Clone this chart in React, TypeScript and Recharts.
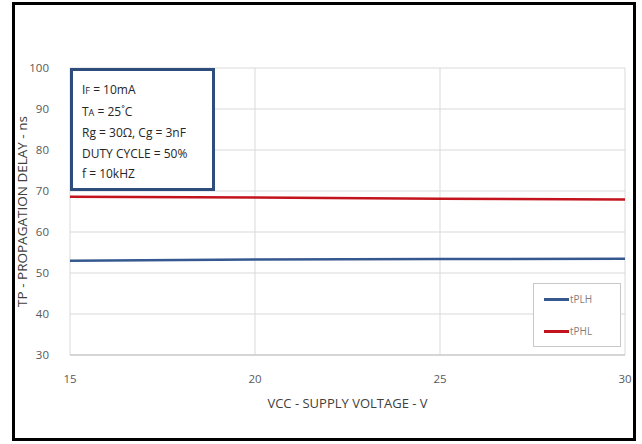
import React from "react";
import { LineChart, Line, XAxis, YAxis, CartesianGrid } from "recharts";

const vcc = [15, 20, 25, 30];
const tPLH = [53.0, 53.3, 53.4, 53.5];
const tPHL = [68.6, 68.4, 68.1, 67.9];
const yTicks = [30, 40, 50, 60, 70, 80, 90, 100];
const xTicks = [15, 20, 25, 30];

const data = vcc.map((v, i) => ({ vcc: v, tPLH: tPLH[i], tPHL: tPHL[i] }));

const FONT = "'Open Sans', 'Liberation Sans', sans-serif";
const BLUE = "#35598f";
const RED = "#c3141d";

const series = [
  { key: "tPLH", color: BLUE },
  { key: "tPHL", color: RED },
];

export default function App() {
  return (
    <div style={{ position: "absolute", left: 0, top: 0, width: 642, height: 444, background: "#fff" }}>
      <div
        style={{
          position: "absolute",
          left: 12,
          top: 2,
          width: 624,
          height: 439,
          border: "3px solid #000",
          boxSizing: "border-box",
        }}
      />
      <LineChart width={642} height={444} data={data} margin={{ top: 68, right: 17, bottom: 0, left: 10 }}>
        <CartesianGrid stroke="#d9d9d9" strokeWidth={1} />
        <XAxis
          dataKey="vcc"
          type="number"
          domain={[15, 30]}
          ticks={xTicks}
          tickLine={false}
          axisLine={{ stroke: "#bfbfbf" }}
          tick={{ fill: "#595959", fontSize: 11.5, fontFamily: FONT }}
          tickMargin={14}
          height={89}
          label={{
            value: "VCC - SUPPLY VOLTAGE - V",
            position: "insideTop",
            offset: 44,
            fill: "#404040",
            fontSize: 13,
            fontFamily: FONT,
          }}
        />
        <YAxis
          type="number"
          domain={[30, 100]}
          ticks={yTicks}
          tickLine={false}
          axisLine={false}
          width={60}
          tickMargin={15}
          tick={{ fill: "#595959", fontSize: 11.5, fontFamily: FONT }}
          label={{
            value: "TP - PROPAGATION DELAY - ns",
            angle: -90,
            position: "insideLeft",
            offset: 12,
            style: { textAnchor: "middle" },
            fill: "#404040",
            fontSize: 13.5,
            fontFamily: FONT,
          }}
        />
        {series.map((s) => (
          <Line
            key={s.key}
            type="linear"
            dataKey={s.key}
            name={s.key}
            stroke={s.color}
            strokeWidth={2.5}
            dot={false}
            isAnimationActive={false}
          />
        ))}
      </LineChart>
      <div
        style={{
          position: "absolute",
          left: 533,
          top: 283,
          width: 88,
          height: 64,
          border: "1px solid #c8c8c8",
          boxSizing: "border-box",
          background: "#fff",
          fontFamily: FONT,
          fontSize: 10,
          color: "#7f7f7f",
          paddingTop: 8,
        }}
      >
        {series.map((s, i) => (
          <div key={s.key} style={{ display: "flex", alignItems: "center", height: 14, marginBottom: i === 0 ? 18 : 0 }}>
            <span style={{ display: "inline-block", width: 25, height: 3, background: s.color, marginLeft: 10, marginRight: 1 }} />
            <span>{s.key}</span>
          </div>
        ))}
      </div>
      <div
        style={{
          position: "absolute",
          left: 70,
          top: 68,
          width: 145,
          height: 123,
          border: "3px solid #2e4d7c",
          boxSizing: "border-box",
          background: "#fff",
          fontFamily: FONT,
          fontSize: 12,
          color: "#262626",
          padding: "9px 0 0 9px",
          lineHeight: "20.5px",
        }}
      >
        <div>I<span style={{ fontSize: 9 }}>F</span> = 10mA</div>
        <div>T<span style={{ fontSize: 9 }}>A</span> = 25˚C</div>
        <div>Rg = 30Ω, Cg = 3nF</div>
        <div>DUTY CYCLE = 50%</div>
        <div>f = 10kHZ</div>
      </div>
    </div>
  );
}
